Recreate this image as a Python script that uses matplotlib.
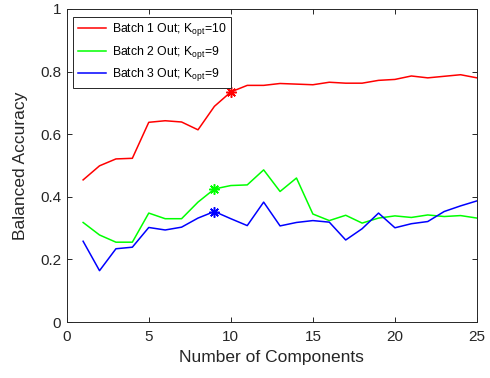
import matplotlib
matplotlib.use('Agg')
import matplotlib.pyplot as plt

plt.rcParams['font.family'] = ['Liberation Sans', 'DejaVu Sans']
plt.rcParams['mathtext.default'] = 'regular'

# Number of components
n_comp = list(range(1, 26))

# Balanced accuracy per held-out batch
batch1 = [0.454, 0.499, 0.521, 0.523, 0.638, 0.643, 0.639, 0.614, 0.689, 0.735,
          0.756, 0.756, 0.762, 0.760, 0.758, 0.766, 0.763, 0.763, 0.772, 0.775,
          0.786, 0.780, 0.785, 0.790, 0.780]
batch2 = [0.318, 0.278, 0.255, 0.255, 0.348, 0.330, 0.330, 0.383, 0.425, 0.436,
          0.438, 0.486, 0.417, 0.460, 0.345, 0.324, 0.341, 0.316, 0.332, 0.339,
          0.334, 0.342, 0.337, 0.340, 0.332]
batch3 = [0.258, 0.164, 0.234, 0.239, 0.302, 0.294, 0.303, 0.332, 0.353, 0.330,
          0.308, 0.383, 0.307, 0.318, 0.324, 0.319, 0.262, 0.298, 0.348, 0.301,
          0.314, 0.321, 0.353, 0.371, 0.387]

# Optimal K per batch
k_opt = [10, 9, 9]

series = [batch1, batch2, batch3]
colors = ['#ff0000', '#00ff00', '#0000ff']
labels = ['Batch 1 Out; K$_{opt}$=10', 'Batch 2 Out; K$_{opt}$=9', 'Batch 3 Out; K$_{opt}$=9']

fig = plt.figure(figsize=(4.9, 3.78), dpi=100)
ax = fig.add_axes([66.7 / 490, (378 - 322) / 378, 410.3 / 490, 313 / 378])

for ys, c, lab, k in zip(series, colors, labels, k_opt):
    ax.plot(n_comp, ys, color=c, lw=1.1, label=lab)
    ax.plot(k, ys[n_comp.index(k)], marker=(8, 2, 0), color=c, ms=7.5, mew=1.1,
            linestyle='none')

ax.set_xlim(0, 25)
ax.set_ylim(0, 1)
ax.set_xticks([0, 5, 10, 15, 20, 25])
ax.set_yticks([0, 0.2, 0.4, 0.6, 0.8, 1])
ax.set_yticklabels(['0', '0.2', '0.4', '0.6', '0.8', '1'])
ax.tick_params(direction='in', top=True, right=True, length=3.5, width=0.7,
               labelsize=11, colors='#262626')
ax.tick_params(axis='x', pad=6)
ax.tick_params(axis='y', pad=4)
for sp in ax.spines.values():
    sp.set_color('#262626')
    sp.set_linewidth(0.7)

ax.set_xlabel('Number of Components', fontsize=12.5, color='#262626', labelpad=4)
ax.set_ylabel('Balanced Accuracy', fontsize=12.5, color='#262626', labelpad=9)

leg = ax.legend(loc='upper left', bbox_to_anchor=(0.015, 0.976), borderaxespad=0,
                fontsize=8.8, fancybox=False, framealpha=1, edgecolor='#262626',
                handlelength=2.3, handletextpad=0.5, labelspacing=0.45,
                borderpad=0.4)
leg.get_frame().set_linewidth(0.7)

fig.savefig('out.png', dpi=100)
